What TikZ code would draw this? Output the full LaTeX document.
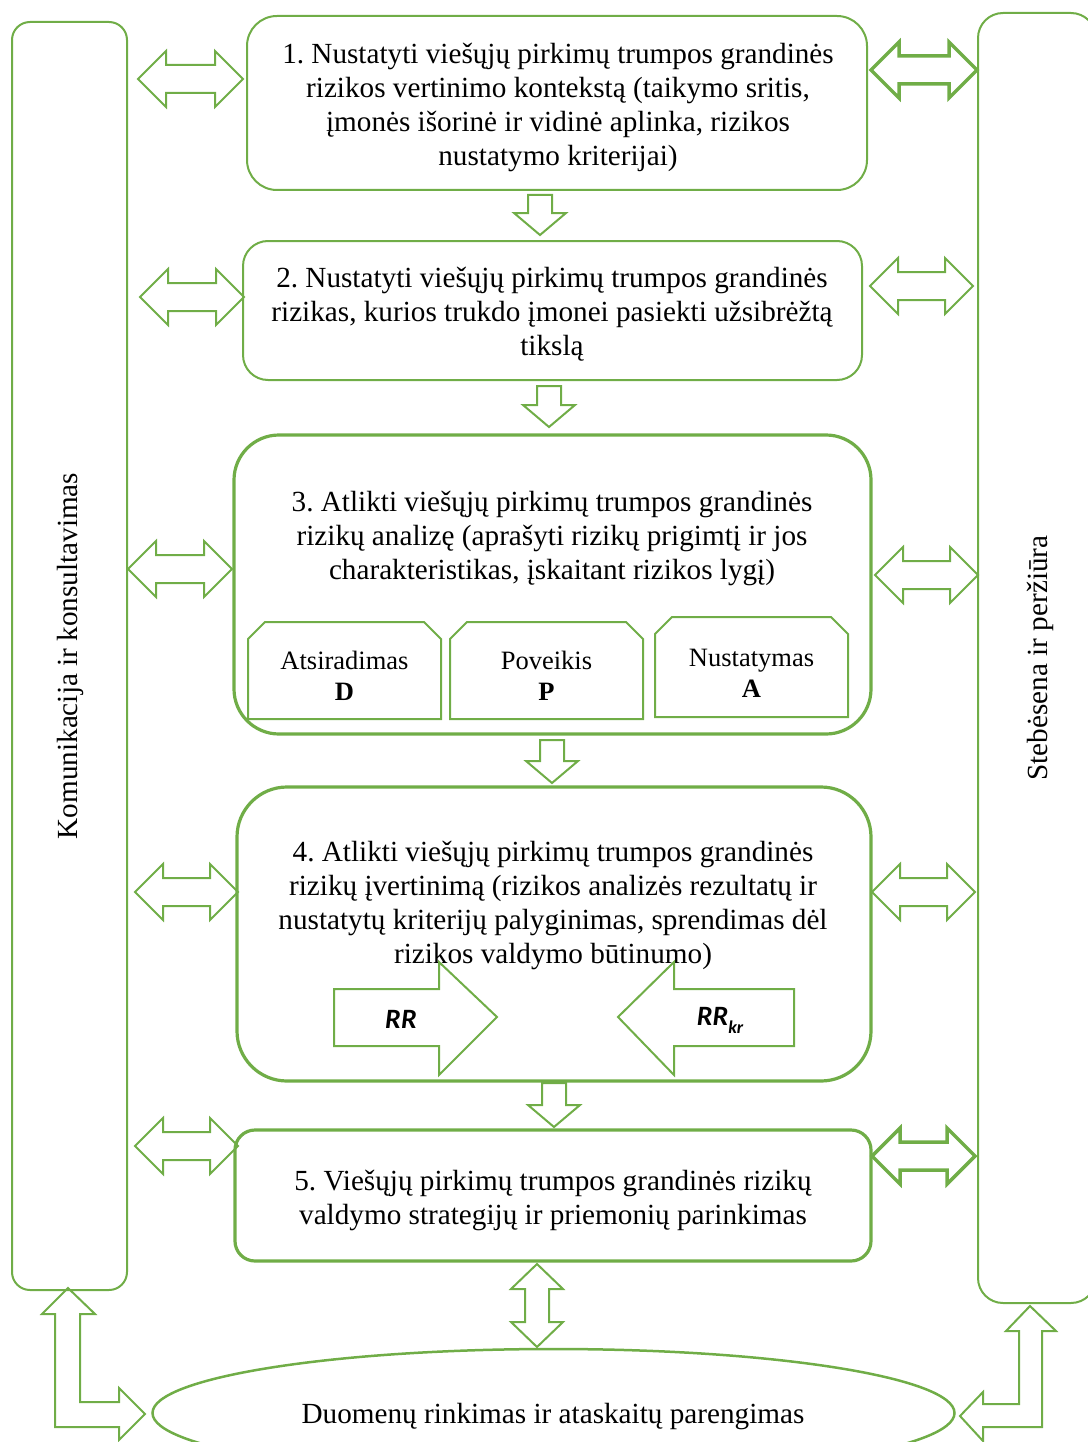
\documentclass[tikz,border=0pt]{standalone}
\usepackage{fontspec}
\setmainfont{Liberation Serif}
\newfontfamily\carlfont{Carlito}
\usetikzlibrary{shapes.geometric}
\definecolor{grn}{HTML}{70AD47}
\frenchspacing
\tikzset{
  blk/.style={draw=grn, line width=2pt, line join=miter},
  boxthin/.style={draw=grn, line width=2pt, inner sep=0pt, outer sep=0pt},
  boxthick/.style={draw=grn, line width=3.2pt, inner sep=0pt, outer sep=0pt},
  txt/.style={align=center, inner sep=0pt, font=\frenchspacing\fontsize{29.2}{34}\selectfont},
  subtxt/.style={align=center, inner sep=0pt, font=\fontsize{26.5}{31}\selectfont},
  sub/.style={draw=grn, line width=2pt, line join=miter},
}
\newcommand\HDbl[4][]{\draw[blk,#1] (#2,#4) -- ({#2+28},{#4-28}) -- ({#2+28},{#4-14}) -- ({#3-28},{#4-14}) -- ({#3-28},{#4-28}) -- (#3,#4) -- ({#3-28},{#4+28}) -- ({#3-28},{#4+14}) -- ({#2+28},{#4+14}) -- ({#2+28},{#4+28}) -- cycle;}
\newcommand\VDown[4][]{\draw[blk,#1] ({#2-12},#3) -- ({#2-12},{#4-22}) -- ({#2-26},{#4-22}) -- (#2,#4) -- ({#2+26},{#4-22}) -- ({#2+12},{#4-22}) -- ({#2+12},#3) -- cycle;}
\newcommand\SubBox[5]{\draw[sub] (#1,#4) -- (#1,{#3+17}) -- ({#1+17},#3) -- ({#2-17},#3) -- (#2,{#3+17}) -- (#2,#4) -- cycle;}
\begin{document}
\begin{tikzpicture}[x=1pt,y=-1pt]
\useasboundingbox (0,0) rectangle (1087,1442);
% side boxes
\node[boxthin, rounded corners=18pt, minimum width=115pt, minimum height=1268pt] (left) at (69.5,656) {};
\node[rotate=90, txt] (lefttxt) at (70,656) {Komunikacija ir konsultavimas};
\node[boxthin, rounded corners=25pt, minimum width=118pt, minimum height=1290pt] (right) at (1037,658) {};
\node[rotate=90, txt] (righttxt) at (1040,658) {Stebėsena ir peržiūra};
% main boxes
\node[boxthin, rounded corners=30pt, minimum width=620pt, minimum height=174pt] (b1) at (557,103) {};
\node[txt] (t1) at (558,107) {1. Nustatyti viešųjų pirkimų trumpos grandinės\\ rizikos vertinimo kontekstą (taikymo sritis,\\ įmonės išorinė ir vidinė aplinka, rizikos\\ nustatymo kriterijai)};
\node[boxthin, rounded corners=25pt, minimum width=619pt, minimum height=139pt] (b2) at (552.5,310.5) {};
\node[txt] (t2) at (552,314) {2. Nustatyti viešųjų pirkimų trumpos grandinės\\ rizikas, kurios trukdo įmonei pasiekti užsibrėžtą\\ tikslą};
\node[boxthick, rounded corners=45pt, minimum width=637pt, minimum height=299pt] (b3) at (552.5,584.5) {};
\node[txt] (t3) at (552,538) {3. Atlikti viešųjų pirkimų trumpos grandinės\\ rizikų analizę (aprašyti rizikų prigimtį ir jos\\ charakteristikas, įskaitant rizikos lygį)};
\SubBox{248}{441}{622}{719}{}
\SubBox{450}{643}{622}{719}{}
\SubBox{655}{848}{617}{717}{}
\node[subtxt] (sa) at (344.5,676) {Atsiradimas\\ \textbf{D}};
\node[subtxt] (sp) at (546.5,676) {Poveikis\\ \textbf{P}};
\node[subtxt] (sn) at (751.5,673) {Nustatymas\\ \textbf{A}};
\node[boxthick, rounded corners=50pt, minimum width=634pt, minimum height=294pt] (b4) at (554,934) {};
\node[txt] (t4) at (553,905) {4. Atlikti viešųjų pirkimų trumpos grandinės\\ rizikų įvertinimą (rizikos analizės rezultatų ir\\ nustatytų kriterijų palyginimas, sprendimas dėl\\ rizikos valdymo būtinumo)};
\draw[blk] (334,989) -- (439,989) -- (439,962) -- (497,1017) -- (439,1075) -- (439,1046) -- (334,1046) -- cycle;
\draw[blk] (794,989) -- (674,989) -- (674,962) -- (618,1017) -- (674,1075) -- (674,1046) -- (794,1046) -- cycle;
\node[font=\carlfont\bfseries\itshape\fontsize{28}{30}\selectfont, inner sep=0pt] (rr) at (401,1019) {RR};
\node[font=\carlfont\bfseries\itshape\fontsize{28}{30}\selectfont, inner sep=0pt] (rrkr) at (720,1020) {RR\raisebox{-0.28em}{\fontsize{18}{18}\selectfont kr}};
\node[boxthick, rounded corners=20pt, minimum width=636pt, minimum height=131pt] (b5) at (553,1195.5) {};
\node[txt] (t5) at (553,1200) {5. Viešųjų pirkimų trumpos grandinės rizikų\\ valdymo strategijų ir priemonių parinkimas};
% ellipse
\node[ellipse, draw=grn, line width=2.5pt, minimum width=802pt, minimum height=128pt, inner sep=0pt] (el) at (553.5,1413) {};
\node[txt] (te) at (553,1417) {Duomenų rinkimas ir ataskaitų parengimas};
% down arrows
\VDown{540}{195}{235}
\VDown{549}{386}{427}
\VDown{552}{740}{783}
\VDown{554}{1083}{1127}
% vertical double
\draw[blk] (537,1264) -- (563,1289) -- (549,1289) -- (549,1322) -- (563,1322) -- (537,1347) -- (511,1322) -- (525,1322) -- (525,1289) -- (511,1289) -- cycle;
% left arrows
\HDbl{138}{243}{79}
\HDbl{140}{244}{297}
\HDbl{128}{232}{569}
\HDbl{135}{238}{892}
\HDbl{135}{238}{1146}
% right arrows
\HDbl[line width=3.5pt]{871}{977}{70}
\HDbl{870}{973}{286}
\HDbl{875}{978}{575}
\HDbl{872}{975}{892}
\HDbl[line width=3.5pt]{872}{975}{1156}
% bent arrows
\draw[blk] (68,1288) -- (95,1314) -- (80,1314) -- (80,1402) -- (119,1402) -- (119,1388) -- (145,1414) -- (119,1440) -- (119,1427) -- (55,1427) -- (55,1314) -- (42,1314) -- cycle;
\draw[blk] (1030,1306) -- (1056,1331) -- (1042,1331) -- (1042,1427) -- (983,1427) -- (983,1441) -- (960,1416) -- (983,1392) -- (983,1404) -- (1019,1404) -- (1019,1331) -- (1006,1331) -- cycle;
\end{tikzpicture}
\end{document}
